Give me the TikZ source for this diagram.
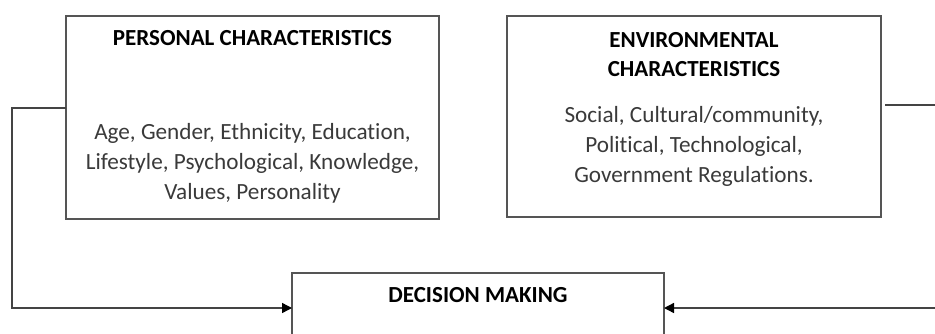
\documentclass[tikz,border=0pt]{standalone}
\usepackage{fontspec}
\setmainfont{Carlito}[Ligatures={NoCommon}]
\usetikzlibrary{arrows.meta}
\definecolor{boxline}{HTML}{555555}
\definecolor{bodytext}{HTML}{3A3A3A}
\begin{document}
\begin{tikzpicture}[x=1pt,y=-1pt,
  box/.style={draw=boxline,line width=1.4pt,fill=white},
  ttl/.style={font=\bfseries\fontsize{23}{29}\selectfont,text=black,align=center},
  bod/.style={font=\fontsize{23.2}{30}\selectfont,text=bodytext,align=center},
  conn/.style={draw=boxline!80!black,line width=1.4pt},
  arr/.style={conn,-{Triangle[length=10pt,width=10pt,color=black]}}]
\useasboundingbox (0,0) rectangle (935,333);
% boxes
\draw[box] (66,16) rectangle (439,219);
\draw[box] (507,16) rectangle (881,217);
\draw[box] (292,273) rectangle (664,345);
\coordinate (pL) at (66,108);
\coordinate (eR) at (885,105);
\coordinate (dL) at (292,308);
\coordinate (dR) at (664,308);
% texts
\node[ttl] (pt) at (252.5,38) {PERSONAL CHARACTERISTICS};
\node[bod] (pb) at (252.5,163) {Age, Gender, Ethnicity, Education,\\Lifestyle, Psychological, Knowledge,\\Values, Personality};
\node[ttl] (et) at (694,54.5) {ENVIRONMENTAL\\CHARACTERISTICS};
\node[bod] (eb) at (694,146.5) {Social, Cultural/community,\\Political, Technological,\\Government Regulations.};
\node[ttl] (dt) at (478,295) {DECISION MAKING};
% connectors
\draw[arr] (pL) -- (12,108) -- (12,308) -- (dL);
\draw[arr] (eR) -- (950,105) -- (950,308) -- (dR);
\end{tikzpicture}
\end{document}
